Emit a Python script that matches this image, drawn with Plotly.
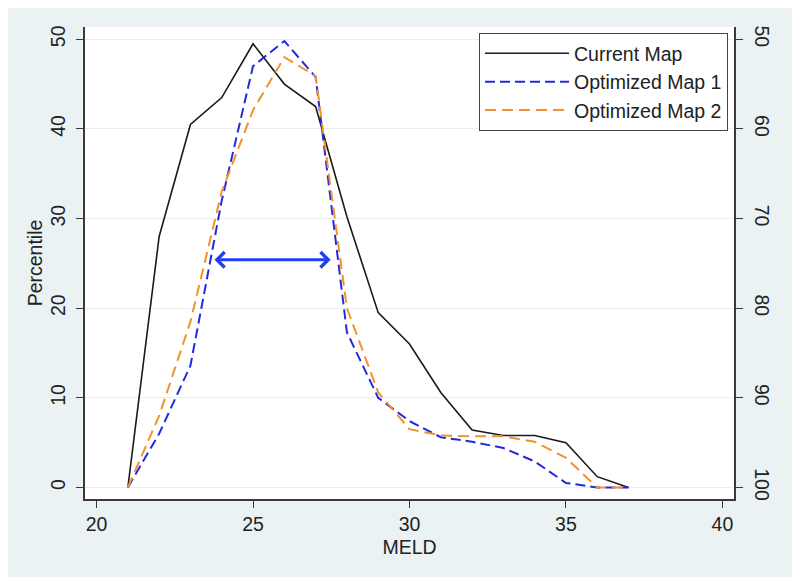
import plotly.graph_objects as go

# ── Data ──────────────────────────────────────────────────────────────────────
MELD = [21, 22, 23, 24, 25, 26, 27, 28, 29, 30, 31, 32, 33, 34, 35, 36, 37]

CURRENT_MAP = [0, 28, 40.5, 43.5, 49.5, 45, 42.5, 30.2, 19.5, 16, 10.6,
               6.4, 5.8, 5.8, 5.0, 1.2, 0]
OPT_MAP_1 = [0, 6, 13.6, 32, 47, 49.8, 45.8, 17.3, 10, 7.4, 5.6,
             5.1, 4.4, 2.9, 0.5, 0, 0]
OPT_MAP_2 = [0, 8, 18.5, 33, 42.1, 48, 45.9, 20, 10.6, 6.5, 5.8,
             5.7, 5.7, 5.1, 3.3, 0, 0]

ARROW_X = [23.72, 27.48]
ARROW_Y = 25.4

X_TICKS = [20, 25, 30, 35, 40]
Y_TICKS = [0, 10, 20, 30, 40, 50]
Y2_TICKS = [50, 60, 70, 80, 90, 100]

# ── Style ─────────────────────────────────────────────────────────────────────
FONT = "Arial, Liberation Sans, sans-serif"
BLACK = "#1a1a1a"
BLUE = "#2329e0"
ORANGE = "#f0922e"
ARROW_BLUE = "#2040f0"
AXIS = "#3a3a3a"
REGION = "#eaf2f3"

Y_RANGE = [-1.29, 51.37]

fig = go.Figure()
fig.add_trace(go.Scatter(x=MELD, y=CURRENT_MAP, mode="lines", name="Current Map",
                         line=dict(color=BLACK, width=1.6)))
fig.add_trace(go.Scatter(x=MELD, y=OPT_MAP_1, mode="lines", name="Optimized Map 1",
                         line=dict(color=BLUE, width=2, dash="10px,5px")))
fig.add_trace(go.Scatter(x=MELD, y=OPT_MAP_2, mode="lines", name="Optimized Map 2",
                         line=dict(color=ORANGE, width=2, dash="11px,6px")))
# right axis mirrors the left one as 100 - percentile
fig.add_trace(go.Scatter(x=MELD, y=[100 - v for v in CURRENT_MAP], yaxis="y2",
                         mode="lines", line=dict(width=0), opacity=0,
                         showlegend=False, hoverinfo="skip"))

# double-headed arrow
fig.add_annotation(x=ARROW_X[1], y=ARROW_Y, ax=ARROW_X[0], ay=ARROW_Y,
                   xref="x", yref="y", axref="x", ayref="y", text="",
                   showarrow=True, arrowside="end+start",
                   arrowhead=4, startarrowhead=4, arrowsize=1, startarrowsize=1,
                   arrowwidth=3, arrowcolor=ARROW_BLUE)

# grey graph region with white plot area on top
fig.add_shape(type="rect", xref="paper", yref="paper", layer="below",
              x0=-0.1202, x1=1.0909, y0=-0.1653, y1=1.0424,
              fillcolor=REGION, line_width=0)
fig.add_shape(type="rect", xref="paper", yref="paper", layer="below",
              x0=0, x1=1, y0=0, y1=1, fillcolor="white", line_width=0)

axis_common = dict(showline=True, linecolor=AXIS, linewidth=1.5, ticks="outside",
                   ticklen=7, tickcolor=AXIS, tickwidth=1.2, zeroline=False,
                   automargin=False, tickfont=dict(size=19.5, color="#222"))

# page body adds an 8px offset, so the figure is 8px smaller than the window
fig.update_layout(
    width=792, height=577,
    margin=dict(l=77, r=66, t=19, b=86),
    paper_bgcolor="white", plot_bgcolor="white",
    font=dict(family=FONT, size=19.5, color="#222"),
    xaxis=dict(range=[19.63, 40.37], tickvals=X_TICKS, showgrid=False,
               title=dict(text="MELD", standoff=6, font=dict(size=19.5)),
               **axis_common),
    yaxis=dict(range=Y_RANGE, tickvals=Y_TICKS, tickangle=-90,
               showgrid=True, gridcolor="#eceeee", gridwidth=1,
               ticklabelstandoff=3,
               title=dict(text="Percentile", standoff=0, font=dict(size=19.5)),
               **axis_common),
    yaxis2=dict(range=[100 - Y_RANGE[0], 100 - Y_RANGE[1]], tickvals=Y2_TICKS,
                tickangle=90, overlaying="y", side="right", showgrid=False,
                ticklabelstandoff=4, **axis_common),
    legend=dict(x=0.9908, y=0.987, xanchor="right", yanchor="top",
                bgcolor="white", bordercolor="#444", borderwidth=1,
                font=dict(size=19.5), itemwidth=84, tracegroupgap=0,
                entrywidth=265),
    showlegend=True,
)

fig.write_html("out.html")
